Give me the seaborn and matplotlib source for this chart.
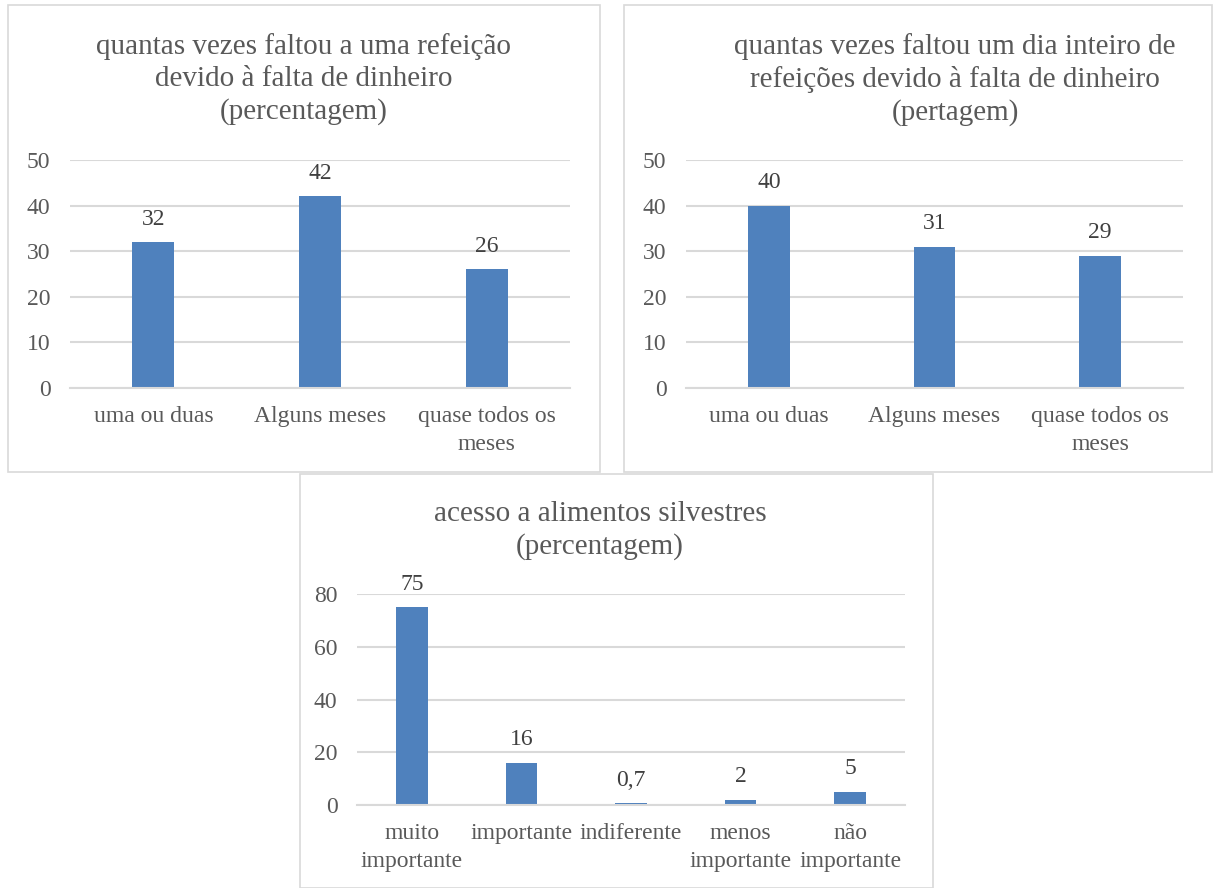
import matplotlib
matplotlib.use('Agg')
import matplotlib.pyplot as plt
import seaborn as sns
import pandas as pd
from matplotlib.patches import Rectangle

# data
cats_1 = ['uma ou duas', 'Alguns meses', 'quase todos os\nmeses']
vals_1 = [32, 42, 26]
title_1 = 'quantas vezes faltou a uma refeição\ndevido à falta de dinheiro\n(percentagem)'

cats_2 = ['uma ou duas', 'Alguns meses', 'quase todos os\nmeses']
vals_2 = [40, 31, 29]
title_2 = 'quantas vezes faltou um dia inteiro de\nrefeições devido à falta de dinheiro\n(pertagem)'

cats_3 = ['muito\nimportante', 'importante', 'indiferente', 'menos\nimportante', 'não\nimportante']
vals_3 = [75, 16, 0.7, 2, 5]
labels_3 = ['75', '16', '0,7', '2', '5']

sns.set_theme(style='white')
plt.rcParams['font.family'] = ['Liberation Serif', 'DejaVu Serif']

BAR = '#4F81BD'
GRID = '#D9D9D9'
TXT = '#595959'
W, H = 1223, 888

fig = plt.figure(figsize=(12.23, 8.88), dpi=100)


def px_box(x0, y0, x1, y1):
    # pixel box (top-left origin) -> figure fraction rect
    return [x0 / W, 1 - y1 / H, (x1 - x0) / W, (y1 - y0) / H]


# panel frames
for (x0, y0, x1, y1) in [(8, 5, 600, 472), (624, 5, 1212, 472), (300, 474, 933, 888)]:
    fig.patches.append(Rectangle((x0 / W, 1 - y1 / H), (x1 - x0) / W, (y1 - y0) / H,
                                 transform=fig.transFigure, fill=False,
                                 edgecolor=GRID, linewidth=1.2))


def draw(rect, cats, vals, ymax, step, width, labels=None):
    ax = fig.add_axes(rect)
    df = pd.DataFrame({'cat': cats, 'val': vals})
    sns.barplot(data=df, x='cat', y='val', color=BAR, width=width, ax=ax,
                saturation=1, edgecolor='none')
    ax.set_ylim(0, ymax)
    ax.set_yticks(range(0, ymax + 1, step))
    ax.set_xlabel('')
    ax.set_ylabel('')
    ax.yaxis.grid(True, color=GRID, linewidth=1.5)
    ax.set_axisbelow(True)
    for s in ['top', 'right', 'left']:
        ax.spines[s].set_visible(False)
    ax.spines['bottom'].set_color(GRID)
    ax.spines['bottom'].set_linewidth(1.5)
    ax.tick_params(axis='y', length=0, pad=14, labelsize=17, labelcolor=TXT)
    ax.tick_params(axis='x', length=0, pad=13, labelsize=17, labelcolor=TXT)
    for lab in ax.get_xticklabels():
        lab.set_linespacing(1.45)
    ax.bar_label(ax.containers[0], labels=labels if labels else [str(v) for v in vals],
                 padding=9, fontsize=17, color='#404040')
    return ax


draw(px_box(70, 160, 570, 388), cats_1, vals_1, 50, 10, 0.25)
draw(px_box(686, 160, 1183, 388), cats_2, vals_2, 50, 10, 0.25)
draw(px_box(357, 594, 905, 805), cats_3, vals_3, 80, 20, 0.29, labels_3)

fig.text(304 / W, 1 - 33 / H, title_1, ha='center', va='top', fontsize=21,
         color=TXT, linespacing=1.3)
fig.text(955 / W, 1 - 33 / H, title_2, ha='center', va='top', fontsize=21,
         color=TXT, linespacing=1.3)
fig.text(600 / W, 1 - 501 / H, 'acesso a alimentos silvestres\n(percentagem)',
         ha='center', va='top', fontsize=21, color=TXT, linespacing=1.3)

fig.savefig('out.png', dpi=100, facecolor='white')
